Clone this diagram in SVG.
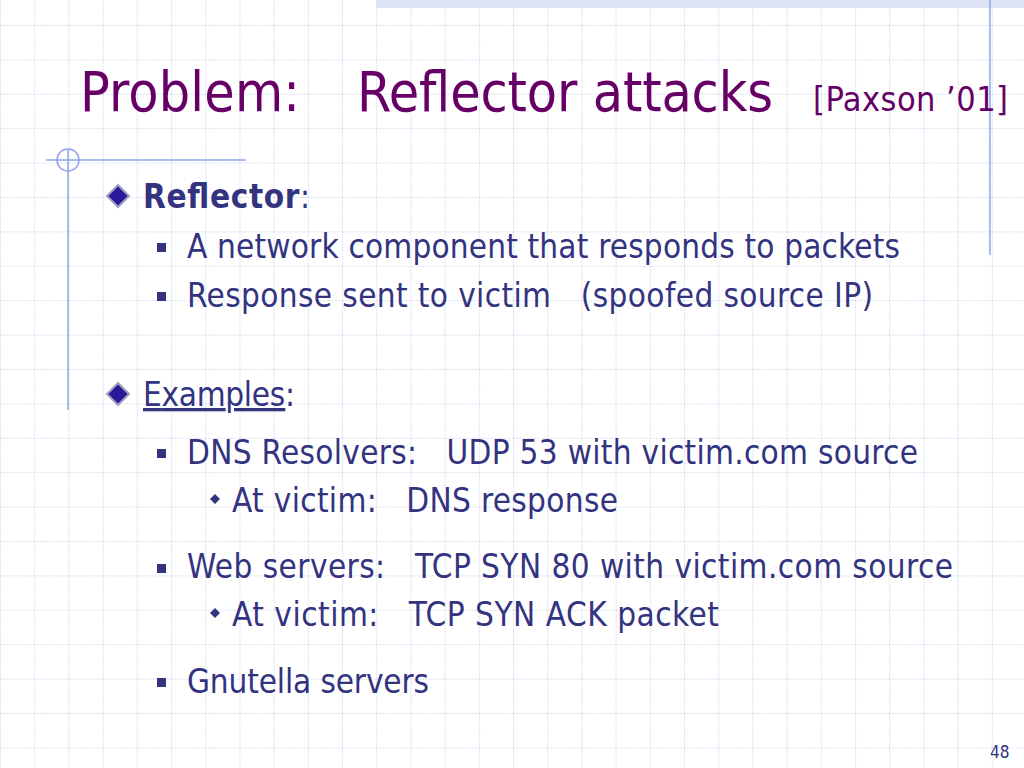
<svg xmlns="http://www.w3.org/2000/svg" width="1024" height="768" viewBox="0 0 1024 768">
<defs>
<pattern id="grid" x="0" y="25" width="34.2" height="34.4" patternUnits="userSpaceOnUse">
<path d="M0.5 0V34.4M0 0.5H34.2" stroke="#dde2f3" stroke-width="1.2" stroke-dasharray="2 1" fill="none"/>
</pattern>
<g id="dia"><path d="M0 -11L11 0L0 11L-11 0Z" fill="#2a1a99" stroke="#a0a0c0" stroke-width="2"/></g>
</defs>
<style>
.t{font-family:"DejaVu Sans Condensed","Liberation Sans",sans-serif;fill:#660066}
.b{font-family:"DejaVu Sans Condensed","Liberation Sans",sans-serif;font-size:33px;fill:#333380}
.sq{fill:#333380}
</style>
<rect width="1024" height="768" fill="#fff"/>
<rect width="1024" height="768" fill="url(#grid)"/>
<rect x="376" y="0" width="648" height="8" fill="#dde3f5"/>
<g stroke="#8fa4e8" stroke-width="1.5" fill="none">
<line x1="990" y1="0" x2="990" y2="255"/>
<line x1="46" y1="160" x2="246" y2="160"/>
<line x1="68" y1="150" x2="68" y2="410"/>
<circle cx="68" cy="160" r="11"/>
</g>
<text class="t" x="80" y="111" font-size="55" textLength="220">Problem:</text>
<text class="t" x="357" y="111" font-size="55" textLength="416">Reflector attacks</text>
<text class="t" x="813" y="111" font-size="34" textLength="195">[Paxson ’01]</text>
<use href="#dia" x="118" y="196"/>
<text class="b" x="143" y="208" textLength="167"><tspan font-weight="bold">Reflector</tspan>:</text>
<rect class="sq" x="157" y="243" width="9" height="9"/>
<text class="b" x="187" y="258" textLength="713">A network component that responds to packets</text>
<rect class="sq" x="157" y="292" width="9" height="9"/>
<text class="b" x="187" y="307" xml:space="preserve" textLength="686">Response sent to victim   (spoofed source IP)</text>
<use href="#dia" x="118" y="394"/>
<text class="b" x="143" y="406" textLength="152"><tspan text-decoration="underline">Examples</tspan>:</text>
<rect class="sq" x="157" y="449" width="9" height="9"/>
<text class="b" x="187" y="464" xml:space="preserve" textLength="731">DNS Resolvers:   UDP 53 with victim.com source</text>
<path class="sq" d="M215 494L220 499L215 504L210 499Z"/>
<text class="b" x="232" y="512" xml:space="preserve" textLength="386">At victim:   DNS response</text>
<rect class="sq" x="157" y="564" width="9" height="9"/>
<text class="b" x="187" y="578" xml:space="preserve" textLength="766">Web servers:   TCP SYN 80 with victim.com source</text>
<path class="sq" d="M215 608L220 613L215 618L210 613Z"/>
<text class="b" x="232" y="626" xml:space="preserve" textLength="487">At victim:   TCP SYN ACK packet</text>
<rect class="sq" x="157" y="678" width="9" height="9"/>
<text class="b" x="187" y="693" textLength="242">Gnutella servers</text>
<text x="990" y="758" font-family="DejaVu Sans Condensed,sans-serif" font-size="17" fill="#333380">48</text>
</svg>
